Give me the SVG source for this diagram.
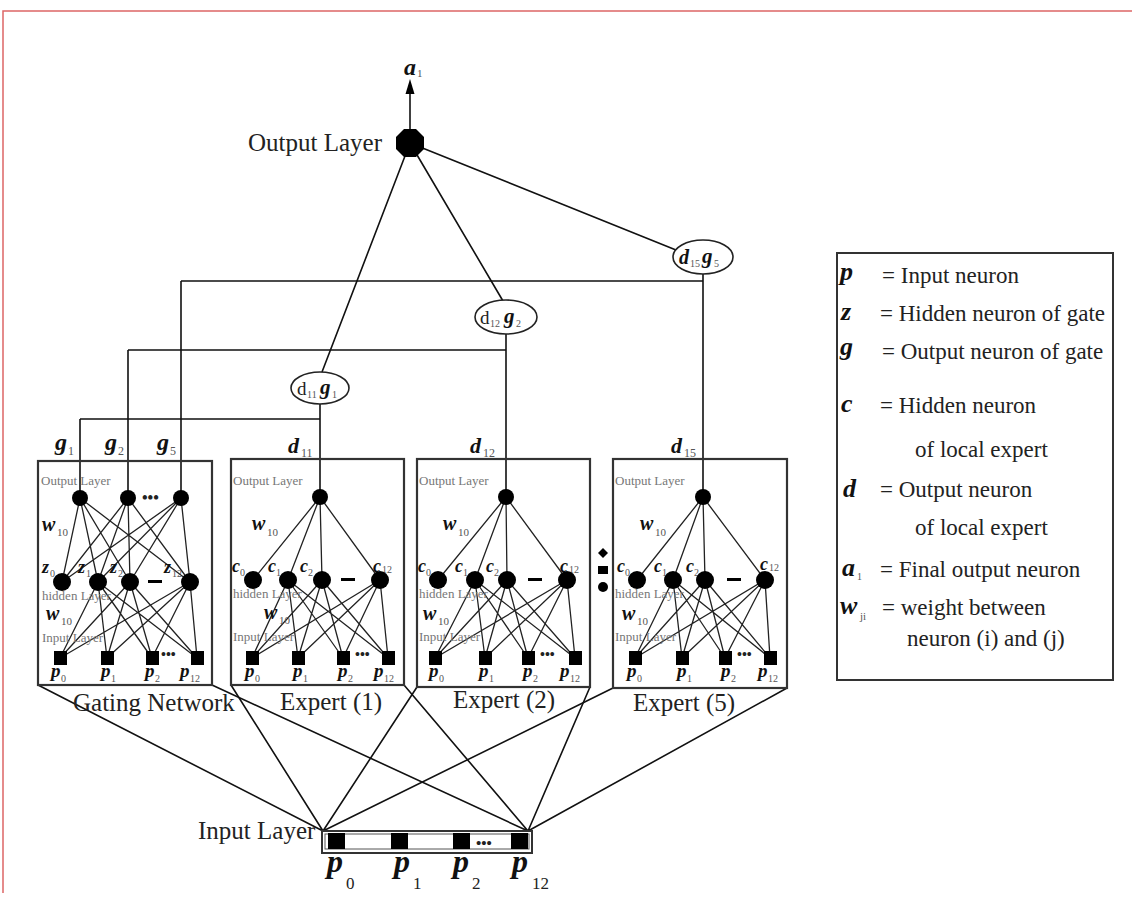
<svg xmlns="http://www.w3.org/2000/svg" width="1132" height="923" viewBox="0 0 1132 923">
<style>
.t{font-family:"Liberation Serif","Times New Roman",serif;fill:#222}
.lb{font-size:25px}
.lg{font-size:23px}
.sm{font-size:13px;fill:#777}
.sym{font-weight:bold;font-style:italic;fill:#111}
.sub{fill:#555}
.ln{stroke:#111;stroke-width:1.6;fill:none}
.wl{stroke:#222;stroke-width:1.3;fill:none}
.box{fill:none;stroke:#333;stroke-width:2.2}
.n{fill:#000}
</style>
<rect width="1132" height="923" fill="#fff"/>
<path d="M3 893V11H1132" fill="none" stroke="#d66" stroke-width="1.5"/>

<g id="connectors">
<path class="ln" d="M410 130V90"/>
<path class="n" d="M410 79L414.5 94L405.5 94Z"/>
<path class="ln" d="M410 143L322 372M410 143L503 301M410 143L676 250"/>
<path class="ln" d="M320 404V497M80 419H320M80 419V498"/>
<path class="ln" d="M506 334V497M128 350H506M128 350V498"/>
<path class="ln" d="M703 274V497M181 281H703M181 281V498"/>
<path class="ln" d="M323 831L38 685M323 831L231 685M323 831L417 687M323 831L613 688"/>
<path class="ln" d="M528 831L212 685M528 831L404 685M528 831L590 687M528 831L787 688"/>
<path class="wl" d="M80 498L62 582M80 498L98 582M80 498L130 582M80 498L190 582M128 498L62 582M128 498L98 582M128 498L130 582M128 498L190 582M181 498L62 582M181 498L98 582M181 498L130 582M181 498L190 582"/>
<path class="wl" d="M98 582L60 658M98 582L107 658M98 582L152 658M98 582L197 658M130 582L60 658M130 582L107 658M130 582L152 658M130 582L197 658M190 582L60 658M190 582L107 658M190 582L152 658M190 582L197 658"/>
<path class="wl" d="M320 497L253 580M320 497L288 580M320 497L322 580M320 497L380 580M288 580L252 658M288 580L298 658M288 580L343 658M288 580L388 658M322 580L252 658M322 580L298 658M322 580L343 658M322 580L388 658M380 580L252 658M380 580L298 658M380 580L343 658M380 580L388 658"/>
<path class="wl" d="M506 497L438 580M506 497L475 580M506 497L507 580M506 497L567 580M475 580L435 658M475 580L485 658M475 580L528 658M475 580L575 658M507 580L435 658M507 580L485 658M507 580L528 658M507 580L575 658M567 580L435 658M567 580L485 658M567 580L528 658M567 580L575 658"/>
<path class="wl" d="M703 497L637 580M703 497L673 580M703 497L705 580M703 497L765 580M673 580L635 658M673 580L682 658M673 580L725 658M673 580L770 658M705 580L635 658M705 580L682 658M705 580L725 658M705 580L770 658M765 580L635 658M765 580L682 658M765 580L725 658M765 580L770 658"/>
</g>

<g id="output-layer">
<path class="n" d="M404 129H416L424 137V149L416 157H404L396 149V137Z"/>
<text class="t lb" x="248" y="151">Output Layer</text>
<text class="t sym" x="404" y="75" font-size="24">a</text>
<text class="t sub" x="417" y="77" font-size="11">1</text>
</g>

<g id="gate-d11g1">
<ellipse cx="320" cy="388" rx="29" ry="16" fill="#fff" stroke="#222" stroke-width="1.6"/>
<text class="t" x="297" y="395" font-size="19">d</text><text class="t sub" x="307" y="398" font-size="10">11</text>
<text class="t sym" x="320" y="394" font-size="21">g</text><text class="t sub" x="332" y="398" font-size="10">1</text>
</g>
<g id="gate-d12g2">
<ellipse cx="506" cy="317" rx="31" ry="17" fill="#fff" stroke="#222" stroke-width="1.6"/>
<text class="t" x="480" y="324" font-size="19" fill="#555">d</text><text class="t sub" x="490" y="327" font-size="10">12</text>
<text class="t sym" x="504" y="323" font-size="21">g</text><text class="t sub" x="516" y="327" font-size="10">2</text>
</g>
<g id="gate-d15g5">
<ellipse cx="703" cy="257" rx="30" ry="17" fill="#fff" stroke="#222" stroke-width="1.6"/>
<text class="t sym" x="679" y="264" font-size="20">d</text><text class="t sub" x="690" y="267" font-size="10">15</text>
<text class="t sym" x="702" y="263" font-size="21">g</text><text class="t sub" x="714" y="267" font-size="10">5</text>
</g>

<g id="gating-network">
<rect class="box" x="38" y="461" width="174" height="224"/>
<text class="t sym" x="55" y="450" font-size="24">g</text><text class="t sub" x="68" y="455" font-size="12">1</text>
<text class="t sym" x="105" y="450" font-size="24">g</text><text class="t sub" x="118" y="455" font-size="12">2</text>
<text class="t sym" x="157" y="450" font-size="24">g</text><text class="t sub" x="170" y="455" font-size="12">5</text>
<text class="t sm" x="41" y="485">Output Layer</text>
<circle class="n" cx="80" cy="498" r="8"/><circle class="n" cx="128" cy="498" r="8"/><circle class="n" cx="181" cy="498" r="8"/>
<text class="t" x="142" y="503" font-size="16" font-weight="bold">•••</text>
<text class="t sym" x="42" y="531" font-size="20">w</text><text class="t sub" x="57" y="536" font-size="11">10</text>
<text class="t sym" x="42" y="573" font-size="18">z</text><text class="t sub" x="50" y="577" font-size="10">0</text>
<text class="t sym" x="78" y="573" font-size="18">z</text><text class="t sub" x="86" y="577" font-size="10">1</text>
<text class="t sym" x="110" y="573" font-size="18">z</text><text class="t sub" x="118" y="577" font-size="10">2</text>
<text class="t sym" x="164" y="573" font-size="18">z</text><text class="t sub" x="172" y="577" font-size="10">12</text>
<circle class="n" cx="62" cy="582" r="9"/><circle class="n" cx="98" cy="582" r="9"/><circle class="n" cx="130" cy="582" r="9"/><circle class="n" cx="190" cy="582" r="9"/>
<rect class="n" x="148" y="580" width="14" height="3"/>
<text class="t sm" x="42" y="600">hidden Layer</text>
<text class="t sym" x="46" y="620" font-size="20">w</text><text class="t sub" x="61" y="625" font-size="11">10</text>
<text class="t sm" x="42" y="642">Input Layer</text>
<rect class="n" x="54" y="651" width="13" height="14"/><rect class="n" x="101" y="651" width="13" height="14"/><rect class="n" x="146" y="651" width="13" height="14"/><rect class="n" x="191" y="651" width="13" height="14"/>
<text class="t" x="161" y="659" font-size="14" font-weight="bold">•••</text>
<text class="t sym" x="51" y="677" font-size="19">p</text><text class="t sub" x="61" y="682" font-size="10">0</text>
<text class="t sym" x="101" y="677" font-size="19">p</text><text class="t sub" x="111" y="682" font-size="10">1</text>
<text class="t sym" x="145" y="677" font-size="19">p</text><text class="t sub" x="155" y="682" font-size="10">2</text>
<text class="t sym" x="180" y="677" font-size="19">p</text><text class="t sub" x="190" y="682" font-size="10">12</text>
<text class="t lb" x="73" y="711">Gating Network</text>
</g>

<g id="expert-1">
<rect class="box" x="231" y="459" width="173" height="226"/>
<text class="t sym" x="288" y="453" font-size="22">d</text><text class="t sub" x="301" y="457" font-size="12">11</text>
<text class="t sm" x="233" y="485">Output Layer</text>
<circle class="n" cx="320" cy="497" r="8"/>
<text class="t sym" x="252" y="530" font-size="20">w</text><text class="t sub" x="267" y="536" font-size="11">10</text>
<text class="t sym" x="232" y="572" font-size="18">c</text><text class="t sub" x="240" y="576" font-size="10">0</text>
<text class="t sym" x="268" y="572" font-size="18">c</text><text class="t sub" x="276" y="576" font-size="10">1</text>
<text class="t sym" x="300" y="572" font-size="18">c</text><text class="t sub" x="308" y="576" font-size="10">2</text>
<text class="t sym" x="373" y="572" font-size="18">c</text><text class="t sub" x="382" y="573" font-size="10">12</text>
<circle class="n" cx="253" cy="580" r="9"/><circle class="n" cx="288" cy="580" r="9"/><circle class="n" cx="322" cy="580" r="9"/><circle class="n" cx="380" cy="580" r="9"/>
<rect class="n" x="341" y="578" width="14" height="3"/>
<text class="t sm" x="233" y="598">hidden Layer</text>
<text class="t sym" x="264" y="619" font-size="20">w</text><text class="t sub" x="279" y="624" font-size="11">10</text>
<text class="t sm" x="233" y="641">Input Layer</text>
<rect class="n" x="246" y="651" width="13" height="14"/><rect class="n" x="292" y="651" width="13" height="14"/><rect class="n" x="337" y="651" width="13" height="14"/><rect class="n" x="382" y="651" width="13" height="14"/>
<text class="t" x="355" y="659" font-size="14" font-weight="bold">•••</text>
<text class="t sym" x="245" y="677" font-size="19">p</text><text class="t sub" x="255" y="682" font-size="10">0</text>
<text class="t sym" x="293" y="677" font-size="19">p</text><text class="t sub" x="303" y="682" font-size="10">1</text>
<text class="t sym" x="338" y="677" font-size="19">p</text><text class="t sub" x="348" y="682" font-size="10">2</text>
<text class="t sym" x="374" y="677" font-size="19">p</text><text class="t sub" x="384" y="682" font-size="10">12</text>
<text class="t lb" x="280" y="710">Expert (1)</text>
</g>

<g id="expert-2">
<rect class="box" x="417" y="459" width="173" height="228"/>
<text class="t sym" x="470" y="453" font-size="22">d</text><text class="t sub" x="483" y="457" font-size="12">12</text>
<text class="t sm" x="419" y="485">Output Layer</text>
<circle class="n" cx="506" cy="497" r="8"/>
<text class="t sym" x="443" y="530" font-size="20">w</text><text class="t sub" x="458" y="536" font-size="11">10</text>
<text class="t sym" x="418" y="572" font-size="18">c</text><text class="t sub" x="426" y="576" font-size="10">0</text>
<text class="t sym" x="455" y="572" font-size="18">c</text><text class="t sub" x="463" y="576" font-size="10">1</text>
<text class="t sym" x="486" y="572" font-size="18">c</text><text class="t sub" x="494" y="576" font-size="10">2</text>
<text class="t sym" x="560" y="572" font-size="18">c</text><text class="t sub" x="569" y="573" font-size="10">12</text>
<circle class="n" cx="438" cy="580" r="9"/><circle class="n" cx="475" cy="580" r="9"/><circle class="n" cx="507" cy="580" r="9"/><circle class="n" cx="567" cy="580" r="9"/>
<rect class="n" x="528" y="578" width="14" height="3"/>
<text class="t sm" x="419" y="598">hidden Layer</text>
<text class="t sym" x="423" y="620" font-size="20">w</text><text class="t sub" x="438" y="625" font-size="11">10</text>
<text class="t sm" x="419" y="641">Input Layer</text>
<rect class="n" x="429" y="651" width="13" height="14"/><rect class="n" x="479" y="651" width="13" height="14"/><rect class="n" x="522" y="651" width="13" height="14"/><rect class="n" x="569" y="651" width="13" height="14"/>
<text class="t" x="540" y="659" font-size="14" font-weight="bold">•••</text>
<text class="t sym" x="429" y="677" font-size="19">p</text><text class="t sub" x="439" y="682" font-size="10">0</text>
<text class="t sym" x="479" y="677" font-size="19">p</text><text class="t sub" x="489" y="682" font-size="10">1</text>
<text class="t sym" x="523" y="677" font-size="19">p</text><text class="t sub" x="533" y="682" font-size="10">2</text>
<text class="t sym" x="560" y="677" font-size="19">p</text><text class="t sub" x="570" y="682" font-size="10">12</text>
<text class="t lb" x="453" y="708">Expert (2)</text>
</g>

<g id="more-experts">
<path class="n" d="M603 548L608 553L603 558L598 553Z"/>
<rect class="n" x="598" y="566" width="10" height="8"/>
<circle class="n" cx="603" cy="587" r="5"/>
</g>

<g id="expert-5">
<rect class="box" x="613" y="459" width="174" height="229"/>
<text class="t sym" x="671" y="453" font-size="22">d</text><text class="t sub" x="684" y="457" font-size="12">15</text>
<text class="t sm" x="615" y="485">Output Layer</text>
<circle class="n" cx="703" cy="497" r="8"/>
<text class="t sym" x="640" y="530" font-size="20">w</text><text class="t sub" x="655" y="536" font-size="11">10</text>
<text class="t sym" x="617" y="572" font-size="18">c</text><text class="t sub" x="625" y="576" font-size="10">0</text>
<text class="t sym" x="654" y="572" font-size="18">c</text><text class="t sub" x="662" y="576" font-size="10">1</text>
<text class="t sym" x="686" y="572" font-size="18">c</text><text class="t sub" x="694" y="576" font-size="10">2</text>
<text class="t sym" x="760" y="570" font-size="18">c</text><text class="t sub" x="769" y="571" font-size="10">12</text>
<circle class="n" cx="637" cy="580" r="9"/><circle class="n" cx="673" cy="580" r="9"/><circle class="n" cx="705" cy="580" r="9"/><circle class="n" cx="765" cy="580" r="9"/>
<rect class="n" x="727" y="578" width="14" height="3"/>
<text class="t sm" x="615" y="598">hidden Layer</text>
<text class="t sym" x="622" y="620" font-size="20">w</text><text class="t sub" x="637" y="625" font-size="11">10</text>
<text class="t sm" x="615" y="641">Input Layer</text>
<rect class="n" x="629" y="651" width="13" height="14"/><rect class="n" x="676" y="651" width="13" height="14"/><rect class="n" x="719" y="651" width="13" height="14"/><rect class="n" x="764" y="651" width="13" height="14"/>
<text class="t" x="737" y="659" font-size="14" font-weight="bold">•••</text>
<text class="t sym" x="627" y="677" font-size="19">p</text><text class="t sub" x="637" y="682" font-size="10">0</text>
<text class="t sym" x="677" y="677" font-size="19">p</text><text class="t sub" x="687" y="682" font-size="10">1</text>
<text class="t sym" x="721" y="677" font-size="19">p</text><text class="t sub" x="731" y="682" font-size="10">2</text>
<text class="t sym" x="758" y="677" font-size="19">p</text><text class="t sub" x="768" y="682" font-size="10">12</text>
<text class="t lb" x="633" y="711">Expert (5)</text>
</g>

<g id="input-layer">
<rect x="322" y="831" width="210" height="22" fill="#fff" stroke="#333" stroke-width="2"/>
<rect x="325" y="834" width="204" height="15" fill="none" stroke="#555" stroke-width="1"/>
<rect class="n" x="328" y="833" width="17" height="16"/>
<rect class="n" x="391" y="833" width="17" height="16"/>
<rect class="n" x="453" y="833" width="17" height="16"/>
<rect class="n" x="511" y="833" width="17" height="16"/>
<text class="t" x="476" y="848" font-size="15" font-weight="bold">•••</text>
<text class="t lb" x="198" y="839">Input Layer</text>
<text class="t sym" x="327" y="872" font-size="32">p</text><text class="t" x="346" y="889" font-size="17" fill="#444">0</text>
<text class="t sym" x="394" y="872" font-size="32">p</text><text class="t" x="413" y="889" font-size="17" fill="#444">1</text>
<text class="t sym" x="453" y="872" font-size="32">p</text><text class="t" x="472" y="889" font-size="17" fill="#444">2</text>
<text class="t sym" x="512" y="872" font-size="32">p</text><text class="t" x="532" y="889" font-size="17" fill="#444">12</text>
</g>

<g id="legend">
<rect x="837" y="253" width="276" height="427" fill="none" stroke="#333" stroke-width="2"/>
<text class="t sym" x="840" y="280" font-size="26">p</text><text class="t lg" x="882" y="283">= Input neuron</text>
<text class="t sym" x="841" y="320" font-size="26">z</text><text class="t lg" x="880" y="321">= Hidden neuron of gate</text>
<text class="t sym" x="840" y="355" font-size="26">g</text><text class="t lg" x="882" y="359">= Output neuron of gate</text>
<text class="t sym" x="841" y="412" font-size="26">c</text><text class="t lg" x="880" y="413">= Hidden neuron</text>
<text class="t lg" x="915" y="457">of local expert</text>
<text class="t sym" x="843" y="497" font-size="26">d</text><text class="t lg" x="880" y="497">= Output neuron</text>
<text class="t lg" x="915" y="535">of local expert</text>
<text class="t sym" x="842" y="576" font-size="26">a</text><text class="t sub" x="857" y="580" font-size="10">1</text><text class="t lg" x="880" y="577">= Final output neuron</text>
<text class="t sym" x="840" y="614" font-size="26">w</text><text class="t sub" x="860" y="620" font-size="11">ji</text><text class="t lg" x="882" y="615">= weight between</text>
<text class="t lg" x="907" y="646">neuron (i) and (j)</text>
</g>
</svg>
